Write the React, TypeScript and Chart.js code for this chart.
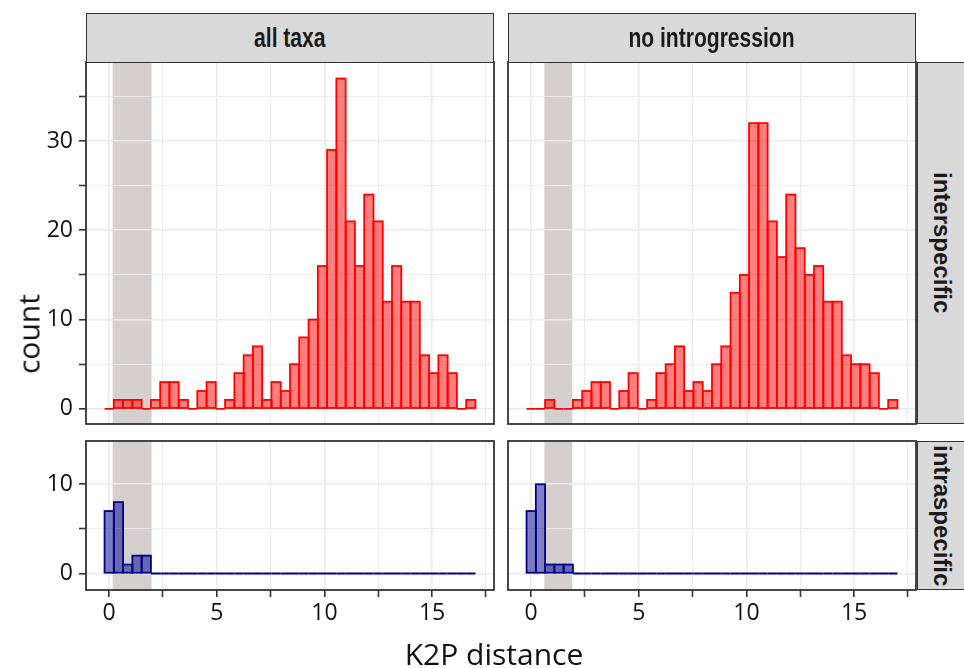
import React, { useEffect, useRef } from "react";
import { Chart, registerables } from "chart.js";
Chart.register(...registerables);

// ---------- data ----------
const BIN_CENTERS = [
  0, 0.431, 0.862, 1.292, 1.723, 2.154, 2.585, 3.015, 3.446, 3.877,
  4.308, 4.738, 5.169, 5.6, 6.031, 6.462, 6.892, 7.323, 7.754, 8.185,
  8.615, 9.046, 9.477, 9.908, 10.338, 10.769, 11.2, 11.631, 12.062, 12.492,
  12.923, 13.354, 13.785, 14.215, 14.646, 15.077, 15.508, 15.938, 16.369, 16.8,
];
const ALL_TAXA_INTER = [
  0, 1, 1, 1, 0, 1, 3, 3, 1, 0, 2, 3, 0, 1, 4, 6, 7, 1, 3, 2,
  5, 8, 10, 16, 29, 37, 21, 16, 24, 21, 12, 16, 12, 12, 6, 4, 6, 4, 0, 1,
];
const NO_INTRO_INTER = [
  0, 0, 1, 0, 0, 1, 2, 3, 3, 0, 2, 4, 0, 1, 4, 5, 7, 2, 3, 2,
  5, 7, 13, 15, 32, 32, 21, 17, 24, 18, 15, 16, 12, 12, 6, 5, 5, 4, 0, 1,
];
const ALL_TAXA_INTRA = [
  7, 8, 1, 2, 2, 0, 0, 0, 0, 0, 0, 0, 0, 0, 0, 0, 0, 0, 0, 0,
  0, 0, 0, 0, 0, 0, 0, 0, 0, 0, 0, 0, 0, 0, 0, 0, 0, 0, 0, 0,
];
const NO_INTRO_INTRA = [
  7, 10, 1, 1, 1, 0, 0, 0, 0, 0, 0, 0, 0, 0, 0, 0, 0, 0, 0, 0,
  0, 0, 0, 0, 0, 0, 0, 0, 0, 0, 0, 0, 0, 0, 0, 0, 0, 0, 0, 0,
];
const BAND_ALL_TAXA = [0.16, 1.97];
const BAND_NO_INTRO = [0.61, 1.91];

const FACETS = ["all taxa", "no introgression"];
const ROWS = ["interspecific", "intraspecific"];
const X_TITLE = "K2P distance";
const Y_TITLE = "count";

const X_TICKS = [0, 2.5, 5, 7.5, 10, 12.5, 15, 17.5];
const X_LABELS = [0, 5, 10, 15];
const Y_TICKS_TOP = [0, 5, 10, 15, 20, 25, 30, 35];
const Y_LABELS_TOP = [0, 10, 20, 30];
const Y_TICKS_BOTTOM = [0, 5, 10];
const Y_LABELS_BOTTOM = [0, 10];

const X_RANGE = [-1.077, 17.877];
const Y_RANGE_TOP = [-1.7, 38.85];
const Y_RANGE_BOTTOM = [-1.85, 14.85];

// ---------- layout / style ----------
const PANEL_LEFT = [86, 508];
const PANEL_W = 408;
const PANEL_TOP = [62, 441];
const PANEL_H = [362, 149];
const PAD = 4;
const Y_AXIS_W = 86;
const X_AXIS_H = 50;
const GRID = "#ebebeb";
const DARK = "#333333";
const TICK_FONT = { family: "'Open Sans', sans-serif", size: 23 };
const TEXT_COLOR = "#111111";

const RED = { stroke: "#ff0000", fill: "rgba(255,0,0,0.5)" };
const BLUE = { stroke: "#00008b", fill: "rgba(0,0,139,0.5)" };

const bandPlugin = {
  id: "band",
  beforeDraw(chart: any, _a: any, opts: any) {
    const { ctx, chartArea } = chart;
    const xs = chart.scales.x;
    const x0 = xs.getPixelForValue(opts.range[0]);
    const x1 = xs.getPixelForValue(opts.range[1]);
    ctx.save();
    ctx.fillStyle = opts.color;
    ctx.fillRect(x0, chartArea.top, x1 - x0, chartArea.bottom - chartArea.top);
    ctx.restore();
  },
};

const outlinePlugin = {
  id: "outline",
  afterDatasetsDraw(chart: any, _a: any, opts: any) {
    const { ctx } = chart;
    const meta = chart.getDatasetMeta(0);
    ctx.save();
    ctx.strokeStyle = opts.color;
    ctx.lineWidth = 1.8;
    meta.data.forEach((el: any) => {
      const { x, y, base, width } = el.getProps(["x", "y", "base", "width"], true);
      ctx.strokeRect(x - width / 2, Math.min(y, base), width, Math.abs(base - y));
    });
    ctx.restore();
  },
};

const framePlugin = {
  id: "frame",
  afterDraw(chart: any) {
    const { ctx, chartArea } = chart;
    ctx.save();
    ctx.strokeStyle = DARK;
    ctx.lineWidth = 1.8;
    ctx.strokeRect(chartArea.left, chartArea.top, chartArea.right - chartArea.left, chartArea.bottom - chartArea.top);
    ctx.restore();
  },
};

function Panel(props: {
  col: number;
  row: number;
  values: number[];
  colors: { stroke: string; fill: string };
  band: number[];
}) {
  const { col, row, values, colors, band } = props;
  const ref = useRef<HTMLCanvasElement>(null);
  const showY = col === 0;
  const showX = row === 1;
  const left = showY ? 0 : PANEL_LEFT[col] - PAD;
  const top = PANEL_TOP[row] - PAD;
  const w = (showY ? Y_AXIS_W : PAD) + PANEL_W + PAD;
  const h = PAD + PANEL_H[row] + (showX ? X_AXIS_H : PAD);
  const yTicks = row === 0 ? Y_TICKS_TOP : Y_TICKS_BOTTOM;
  const yLabels = row === 0 ? Y_LABELS_TOP : Y_LABELS_BOTTOM;
  const yRange = row === 0 ? Y_RANGE_TOP : Y_RANGE_BOTTOM;

  useEffect(() => {
    const chart = new Chart(ref.current as HTMLCanvasElement, {
      type: "bar",
      data: {
        datasets: [
          {
            data: BIN_CENTERS.map((x, i) => ({ x, y: values[i] })),
            backgroundColor: colors.fill,
            borderWidth: 0,
            barPercentage: 1,
            categoryPercentage: 1,
            inflateAmount: 0,
          } as any,
        ],
      },
      options: {
        animation: false,
        responsive: false,
        maintainAspectRatio: false,
        events: [],
        layout: {
          padding: { left: showY ? 0 : PAD, right: PAD, top: PAD, bottom: showX ? 0 : PAD },
        },
        plugins: {
          legend: { display: false },
          tooltip: { enabled: false },
          band: { range: band, color: "#d5cfcf" },
          outline: { color: colors.stroke },
        } as any,
        scales: {
          x: {
            type: "linear",
            min: X_RANGE[0],
            max: X_RANGE[1],
            offset: false,
            afterBuildTicks: (s: any) => {
              s.ticks = X_TICKS.map((v) => ({ value: v }));
            },
            afterFit: (s: any) => {
              s.height = showX ? X_AXIS_H : 0;
              s.paddingLeft = 0;
              s.paddingRight = 0;
            },
            border: { display: false },
            grid: {
              offset: false,
              color: GRID,
              lineWidth: (c: any) => (c.tick && Math.abs(c.tick.value % 5) < 1e-6 ? 1.6 : 1.0),
              drawTicks: showX,
              tickLength: 7,
              tickColor: DARK,
              tickWidth: 1.6,
            },
            ticks: {
              display: showX,
              autoSkip: false,
              maxRotation: 0,
              padding: 3,
              font: TICK_FONT,
              color: TEXT_COLOR,
              callback: (v: any) => (X_LABELS.includes(Number(v)) ? String(v) : ""),
            },
          },
          y: {
            type: "linear",
            min: yRange[0],
            max: yRange[1],
            afterBuildTicks: (s: any) => {
              s.ticks = yTicks.map((v) => ({ value: v }));
            },
            afterFit: (s: any) => {
              s.width = showY ? Y_AXIS_W : 0;
              s.paddingTop = 0;
              s.paddingBottom = 0;
            },
            border: { display: false },
            grid: {
              color: GRID,
              lineWidth: (c: any) => (c.tick && c.tick.value % 10 === 0 ? 1.6 : 1.0),
              drawTicks: showY,
              tickLength: 7,
              tickColor: DARK,
              tickWidth: 1.6,
            },
            ticks: {
              display: showY,
              autoSkip: false,
              padding: 6,
              font: TICK_FONT,
              color: TEXT_COLOR,
              callback: (v: any) => (yLabels.includes(Number(v)) ? String(v) : ""),
            },
          },
        },
      } as any,
      plugins: [bandPlugin, outlinePlugin, framePlugin],
    } as any);
    return () => chart.destroy();
  }, []);

  return (
    <canvas
      ref={ref}
      width={w}
      height={h}
      style={{ position: "absolute", left, top, width: w, height: h }}
    />
  );
}

const stripBase: React.CSSProperties = {
  position: "absolute",
  boxSizing: "border-box",
  background: "#d9d9d9",
  border: `1.5px solid ${DARK}`,
  display: "flex",
  alignItems: "center",
  justifyContent: "center",
  color: "#1a1a1a",
  whiteSpace: "nowrap",
};

export default function App() {
  const series = [
    [ALL_TAXA_INTER, NO_INTRO_INTER],
    [ALL_TAXA_INTRA, NO_INTRO_INTRA],
  ];
  const bands = [BAND_ALL_TAXA, BAND_NO_INTRO];
  return (
    <div
      style={{
        position: "fixed",
        left: 0,
        top: 0,
        width: 964,
        height: 668,
        background: "#ffffff",
        overflow: "hidden",
      }}
    >
      {[0, 1].map((row) =>
        [0, 1].map((col) => (
          <Panel
            key={`${row}-${col}`}
            row={row}
            col={col}
            values={series[row][col]}
            colors={row === 0 ? RED : BLUE}
            band={bands[col]}
          />
        ))
      )}
      {FACETS.map((f, i) => (
        <div
          key={f}
          style={{
            ...stripBase,
            left: PANEL_LEFT[i],
            top: 13,
            width: PANEL_W,
            height: PANEL_TOP[0] - 13 + 1,
            fontFamily: "'Liberation Sans', Arial, sans-serif",
            fontWeight: 700,
            fontSize: 27,
          }}
        >
          <span style={{ display: "inline-block", transform: "scaleX(0.78)" }}>{f}</span>
        </div>
      ))}
      {ROWS.map((r, i) => (
        <div
          key={r}
          style={{
            ...stripBase,
            left: 917,
            top: PANEL_TOP[i],
            width: 50,
            height: PANEL_H[i],
            fontFamily: "'Liberation Sans', Arial, sans-serif",
            fontWeight: 700,
            fontSize: 24,
          }}
        >
          <span style={{ writingMode: "vertical-rl" }}>{r}</span>
        </div>
      ))}
      <div
        style={{
          position: "absolute",
          left: 28,
          top: 334,
          transform: "translate(-50%, -50%) rotate(-90deg)",
          fontFamily: "'Open Sans', sans-serif",
          fontSize: 30,
          color: TEXT_COLOR,
          whiteSpace: "nowrap",
        }}
      >
        {Y_TITLE}
      </div>
      <div
        style={{
          position: "absolute",
          left: 494,
          top: 653,
          transform: "translate(-50%, -50%)",
          fontFamily: "'Open Sans', sans-serif",
          fontSize: 30,
          color: TEXT_COLOR,
          whiteSpace: "nowrap",
        }}
      >
        {X_TITLE}
      </div>
    </div>
  );
}
